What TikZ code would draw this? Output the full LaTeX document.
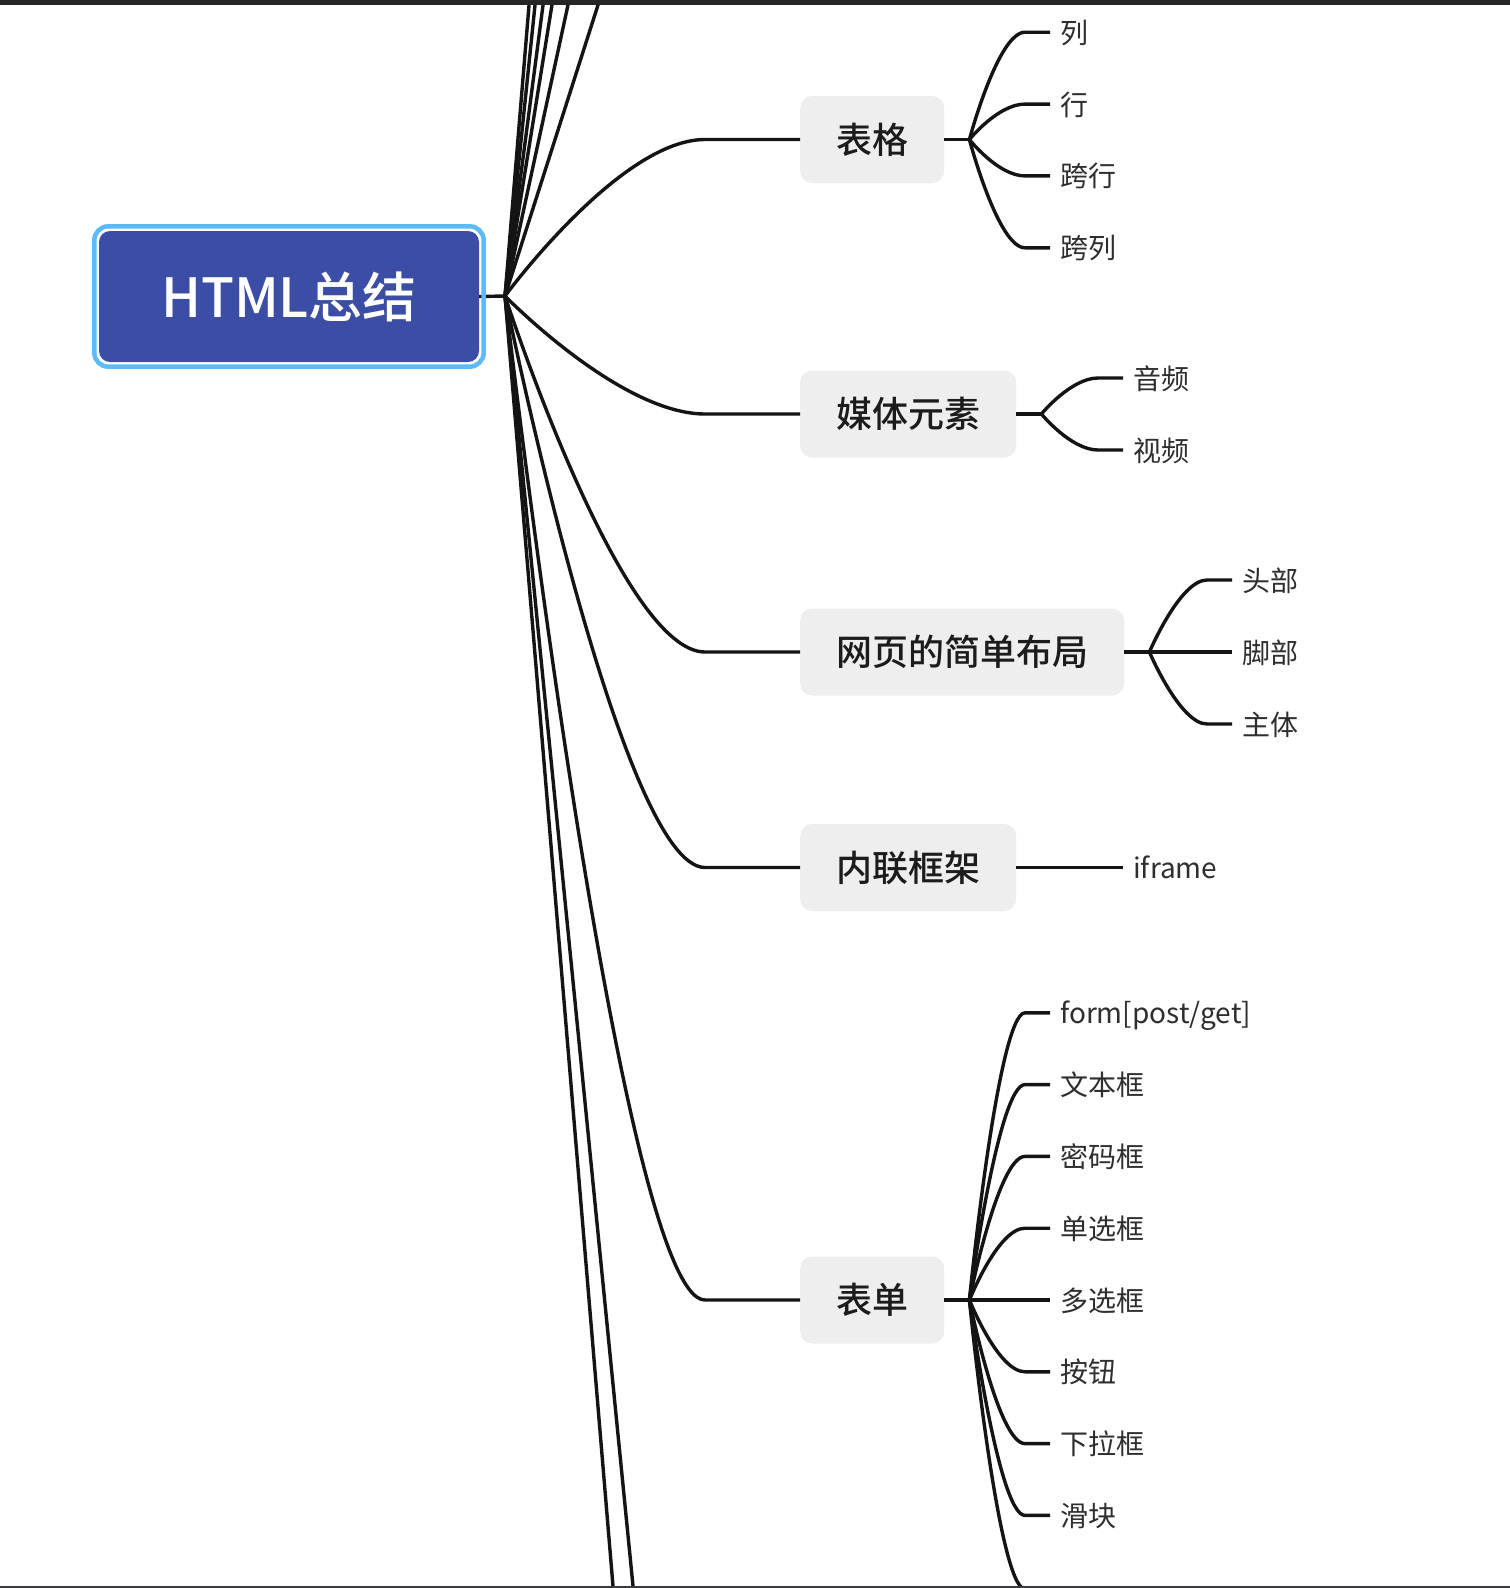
\documentclass[tikz,border=0pt]{standalone}
\usepackage{fontspec}
\setmainfont{Noto Sans CJK SC}[BoldFont={Noto Sans CJK SC Medium}]
\definecolor{linec}{HTML}{141414}
\definecolor{boxgray}{HTML}{EEEEEE}
\definecolor{rootfill}{HTML}{3C4DA6}
\definecolor{rootborder}{HTML}{5CBAF6}
\definecolor{branchtext}{HTML}{1C1C1C}
\definecolor{leaftextc}{HTML}{2E2E2E}
\definecolor{barc}{HTML}{252528}
\tikzset{
  conn/.style={line width=3.4pt, draw=linec},
  branchbox/.style={fill=boxgray, rounded corners=12pt, minimum height=87pt,
    inner xsep=36pt, inner ysep=0pt, anchor=west,
    font=\bfseries\fontsize{36}{40}\selectfont, text=branchtext},
  leaftext/.style={anchor=west, inner sep=0pt, font=\fontsize{28}{32}\selectfont,
    text=leaftextc, text height=24pt, text depth=2pt},
  rootbox/.style={fill=rootfill, rounded corners=11pt, minimum width=380pt,
    minimum height=131pt, inner sep=0pt, text=white,
    font=\bfseries\fontsize{54}{60}\selectfont},
}
\newcommand\leafline[2]{\draw[conn] (#1) .. controls (#1) and ([xshift=-62pt]#2.west) .. ([xshift=-35pt]#2.west) -- ([xshift=-10pt]#2.west);}
\newcommand\branchline[1]{\draw[conn] (hub) .. controls (hub) and ([xshift=-180pt]#1.west) .. ([xshift=-95pt]#1.west) -- (#1.west);}
\begin{document}
\begin{tikzpicture}[x=1pt,y=-1pt]
\useasboundingbox (0,0) rectangle (1510,1588);
\begin{scope}
\clip (0,0) rectangle (1510,1588);
\fill[white] (0,0) rectangle (1510,1588);

% root
\node[rootbox] (root) at (289,296.5) {HTML总结};
\coordinate (hub) at (505,296);

% off-screen branches
\coordinate (t1) at (531.1,-20);
\coordinate (t2) at (537.6,-20);
\coordinate (t3) at (546.3,-20);
\coordinate (t4) at (556.0,-20);
\coordinate (t5) at (573.4,-20);
\coordinate (t6) at (606.0,-20);
\coordinate (b1) at (615.0,1610);
\coordinate (b2) at (635.4,1610);
\foreach \e in {t1,t2,t3,t4,t5,t6,b1,b2} {\draw[conn] (hub) -- (\e);}

% branch nodes
\node[branchbox] (tb) at (800,139.5) {表格};
\node[branchbox] (mt) at (800,414) {媒体元素};
\node[branchbox] (wy) at (800,652) {网页的简单布局};
\node[branchbox] (nl) at (800,867.5) {内联框架};
\node[branchbox] (bd) at (800,1300) {表单};

\draw[conn] (root.east) -- (hub);
\foreach \b in {tb,mt,wy,nl,bd} {\branchline{\b}}

% 表格
\coordinate (jtb) at ([xshift=25pt]tb.east);
\draw[conn] (tb.east) -- (jtb);
\node[leaftext] (tb1) at (1060,32.2) {列};
\node[leaftext] (tb2) at (1060,104.1) {行};
\node[leaftext] (tb3) at (1060,175.9) {跨行};
\node[leaftext] (tb4) at (1060,247.8) {跨列};
\foreach \l in {tb1,tb2,tb3,tb4} {\leafline{jtb}{\l}}

% 媒体元素
\coordinate (jmt) at ([xshift=25pt]mt.east);
\draw[conn] (mt.east) -- (jmt);
\node[leaftext] (mt1) at (1133,378) {音频};
\node[leaftext] (mt2) at (1133,450) {视频};
\foreach \l in {mt1,mt2} {\leafline{jmt}{\l}}

% 网页的简单布局
\coordinate (jwy) at ([xshift=25pt]wy.east);
\draw[conn] (wy.east) -- (jwy);
\node[leaftext] (wy1) at (1242,580) {头部};
\node[leaftext] (wy2) at (1242,652) {脚部};
\node[leaftext] (wy3) at (1242,724) {主体};
\foreach \l in {wy1,wy2,wy3} {\leafline{jwy}{\l}}

% 内联框架
\node[leaftext] (nl1) at (1133,867.5) {iframe};
\draw[conn] (nl.east) -- ([xshift=-10pt]nl1.west);

% 表单
\coordinate (jbd) at ([xshift=25pt]bd.east);
\draw[conn] (bd.east) -- (jbd);
\node[leaftext] (bd1) at (1060,1012.8) {form[post/get]};
\node[leaftext] (bd2) at (1060,1084.6) {文本框};
\node[leaftext] (bd3) at (1060,1156.4) {密码框};
\node[leaftext] (bd4) at (1060,1228.2) {单选框};
\node[leaftext] (bd5) at (1060,1300) {多选框};
\node[leaftext] (bd6) at (1060,1371.8) {按钮};
\node[leaftext] (bd7) at (1060,1443.6) {下拉框};
\node[leaftext] (bd8) at (1060,1515.4) {滑块};
\foreach \l in {bd1,bd2,bd3,bd4,bd5,bd6,bd7,bd8} {\leafline{jbd}{\l}}
\coordinate (bd9) at (1060,1589);
\draw[conn] (jbd) .. controls (jbd) and ([xshift=-62pt]bd9) .. ([xshift=-35pt]bd9) -- ([xshift=-10pt]bd9);

% root outer border
\draw[rootborder, line width=4.5pt, rounded corners=14pt]
  ([xshift=-4.5pt,yshift=4.5pt]root.north west) rectangle ([xshift=4.5pt,yshift=-4.5pt]root.south east);

% window edges
\fill[barc] (0,0) rectangle (1510,5);
\fill[barc!90!white] (0,1586) rectangle (1510,1588);
\end{scope}
\end{tikzpicture}
\end{document}
